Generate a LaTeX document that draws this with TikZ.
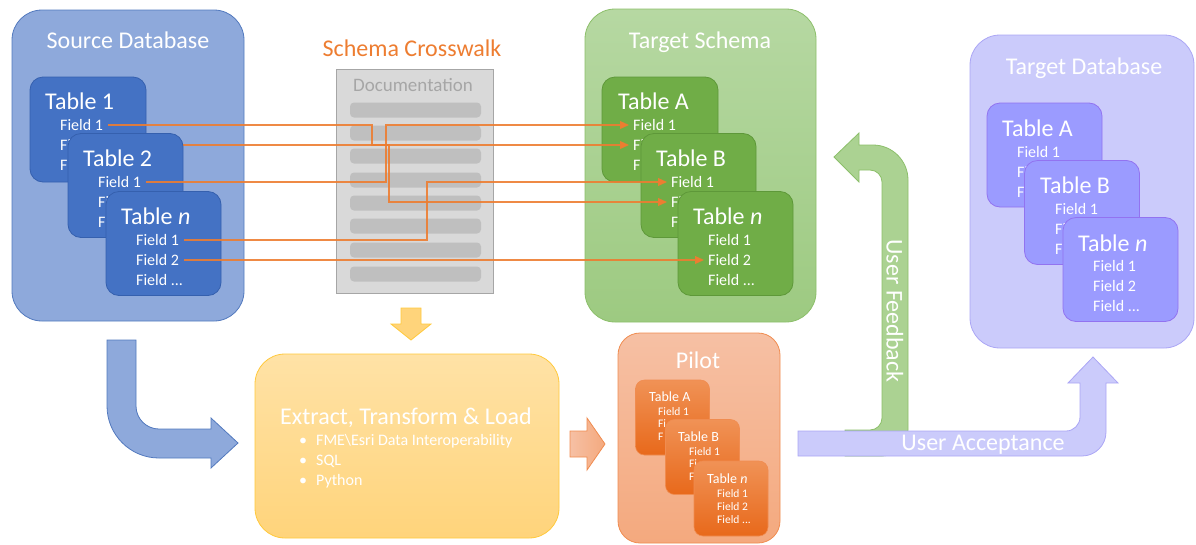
\documentclass[tikz,border=0pt]{standalone}
\usepackage{fontspec}
\setmainfont{Carlito}
\usetikzlibrary{arrows.meta}

\definecolor{srcbg}{HTML}{8EA9DB}
\definecolor{srcline}{HTML}{5279BE}
\definecolor{srcfg}{HTML}{4472C4}
\definecolor{srcdark}{HTML}{3560AE}
\definecolor{tgtbgtop}{HTML}{B6D8A2}
\definecolor{tgtbgbot}{HTML}{9DCA81}
\definecolor{tgtline}{HTML}{8CBF6A}
\definecolor{tgtfg}{HTML}{70AD47}
\definecolor{tgtdark}{HTML}{5E9839}
\definecolor{dbbg}{HTML}{CBCBFB}
\definecolor{dbline}{HTML}{ABA6F5}
\definecolor{dbfg}{HTML}{9B9BFF}
\definecolor{dbdark}{HTML}{9273F0}
\definecolor{etltop}{HTML}{FFE2A6}
\definecolor{etlbot}{HTML}{FFD47B}
\definecolor{etlline}{HTML}{FFC93C}
\definecolor{pilottop}{HTML}{F6C0A4}
\definecolor{pilotbot}{HTML}{F4A97E}
\definecolor{pilotline}{HTML}{F08C50}
\definecolor{pilottabtop}{HTML}{F09256}
\definecolor{pilottabbot}{HTML}{E8691B}
\definecolor{linkorange}{HTML}{ED7D31}
\definecolor{docbg}{HTML}{D9D9D9}
\definecolor{docline}{HTML}{A6A6A6}
\definecolor{docrowbg}{HTML}{BFBFBF}
\definecolor{fbgreen}{HTML}{ABD292}
\definecolor{uapurple}{HTML}{CBCBFB}

\tikzset{
bigbox/.style={draw, line width=0.8pt, rounded corners=30pt, inner sep=0pt}, % the four big containers
tabbox/.style={draw, line width=0.8pt, rounded corners=13pt, inner sep=0pt, minimum width=115pt, minimum height=104pt},
smalltab/.style={draw=pilotline, line width=0.6pt, rounded corners=9pt, inner sep=0pt, minimum width=74pt, minimum height=75pt, top color=pilottabtop, bottom color=pilottabbot},
boxtitle/.style={text=white, inner sep=0pt, text depth=0pt, font=\fontsize{24}{28}\selectfont},
tabtitle/.style={boxtitle, anchor=west},
fieldtxt/.style={anchor=west, inner sep=0pt, text depth=0pt, text=white, font=\fontsize{16}{19}\selectfont},
pilottitle/.style={tabtitle, font=\fontsize{14}{16}\selectfont},
pilotfield/.style={fieldtxt, font=\fontsize{11.5}{13}\selectfont},
docrow/.style={fill=docrowbg, rounded corners=4pt, inner sep=0pt, minimum width=131pt, minimum height=15pt},
maplink/.style={draw=linkorange, line width=1.1pt, draw opacity=0.9, shorten <=5pt, shorten >=4pt, -{Triangle[length=9pt,width=8pt]}},
blockarrow/.style={line width=0.8pt, line join=miter},
}

\begin{document}
\begin{tikzpicture}[x=1pt, y=-1pt]
\useasboundingbox (0,0) rectangle (1196,544);

% crosswalk document
\node[boxtitle, text=linkorange] (cwtitle) at (412,48) {Schema Crosswalk};
\node[draw=docline, fill=docbg, line width=1pt, minimum width=157pt, minimum height=224pt] (doc) at (414.5,181) {};
\node[boxtitle, text=docline, font=\fontsize{19}{22}\selectfont] (doctitle) at (413,85) {Documentation};
\foreach \y [count=\k] in {110,133,156,180,203,226,250,274}
  \node[docrow] (row\k) at (415.5,\y) {};

% turning points of the mapping lines
\coordinate (j1) at (372,0);
\coordinate (j2) at (389,0);
\coordinate (j3) at (386,0);
\coordinate (j4) at (427,0);

% target schema
\node[bigbox, top color=tgtbgtop, bottom color=tgtbgbot, draw=tgtline, minimum width=231pt, minimum height=313pt] (tgtschema) at (700.5,165.5) {};
\node[boxtitle] (tgttitle) at (700,40) {Target Schema};
\node[tabbox, fill=tgtfg, draw=tgtdark, minimum width=116pt, minimum height=105pt] (tgtA) at (660,129.5) {};
\node[tabtitle] (tgtAt) at (618,101) {Table A};
\node[fieldtxt] (tgtA1) at (633,125) {Field 1};
\node[fieldtxt] (tgtA2) at (633,145) {Fi};
\node[fieldtxt] (tgtA3) at (633,165) {F};
\node[tabbox, fill=tgtfg, draw=tgtdark] (tgtB) at (698.5,185.5) {};
\node[tabtitle] (tgtBt) at (656,158) {Table B};
\node[fieldtxt] (tgtB1) at (671,182) {Field 1};
\node[fieldtxt] (tgtB2) at (671,202) {Fi};
\node[fieldtxt] (tgtB3) at (671,222) {F};
\node[tabbox, fill=tgtfg, draw=tgtdark] (tgtn) at (735.5,243.5) {};
\node[tabtitle] (tgtnt) at (693,216) {Table \textit{n}};
\node[fieldtxt] (tgtn1) at (708,240) {Field 1};
\node[fieldtxt] (tgtn2) at (708,260) {Field 2};
\node[fieldtxt] (tgtn3) at (708,280) {Field ...};

% source database, each table followed by its mappings
\node[bigbox, fill=srcbg, draw=srcline, minimum width=232pt, minimum height=311pt] (srcdb) at (128,165.5) {};
\node[boxtitle] (srctitle) at (128,40) {Source Database};
\node[tabbox, fill=srcfg, draw=srcdark, minimum width=116pt, minimum height=105pt] (src1) at (88,129.5) {};
\node[tabtitle] (src1t) at (45,101) {Table 1};
\node[fieldtxt] (s1f1) at (60,125) {Field 1};
\node[fieldtxt] (s1f2) at (60,145) {Fi};
\node[fieldtxt] (s1f3) at (60,165) {F};
\draw[maplink] (s1f1.east) -- (j1 |- s1f1.east) -- (j1 |- tgtA2.west) -- (tgtA2.west);
\draw[maplink] (s1f2.east) -- (j2 |- s1f2.east) -- (j2 |- tgtB2.west) -- (tgtB2.west);

\node[tabbox, fill=srcfg, draw=srcdark] (src2) at (125.5,185.5) {};
\node[tabtitle] (src2t) at (83,158) {Table 2};
\node[fieldtxt] (s2f1) at (98,182) {Field 1};
\node[fieldtxt] (s2f2) at (98,202) {Fi};
\node[fieldtxt] (s2f3) at (98,222) {F};
\draw[maplink] (s2f1.east) -- (j3 |- s2f1.east) -- (j3 |- tgtA1.west) -- (tgtA1.west);

\node[tabbox, fill=srcfg, draw=srcdark] (srcn) at (163.5,243.5) {};
\node[tabtitle] (srcnt) at (121,216) {Table \textit{n}};
\node[fieldtxt] (snf1) at (136,240) {Field 1};
\node[fieldtxt] (snf2) at (136,260) {Field 2};
\node[fieldtxt] (snf3) at (136,280) {Field ...};
\draw[maplink] (snf1.east) -- (j4 |- snf1.east) -- (j4 |- tgtB1.west) -- (tgtB1.west);
\draw[maplink] (snf2.east) -- (tgtn2.west);

% target database
\node[bigbox, fill=dbbg, draw=dbline, minimum width=224pt, minimum height=313pt] (tgtdb) at (1082,191.5) {};
\node[boxtitle] (dbtitle) at (1084,66) {Target Database};
\node[tabbox, fill=dbfg, draw=dbdark] (dbA) at (1044.5,155) {};
\node[tabtitle] (dbAt) at (1002,128) {Table A};
\node[fieldtxt] (dbA1) at (1017,152) {Field 1};
\node[fieldtxt] (dbA2) at (1017,172) {Fi};
\node[fieldtxt] (dbA3) at (1017,192) {F};
\node[tabbox, fill=dbfg, draw=dbdark] (dbB) at (1082,212.5) {};
\node[tabtitle] (dbBt) at (1040,185) {Table B};
\node[fieldtxt] (dbB1) at (1055,209) {Field 1};
\node[fieldtxt] (dbB2) at (1055,229) {Fi};
\node[fieldtxt] (dbB3) at (1055,249) {F};
\node[tabbox, fill=dbfg, draw=dbdark] (dbn) at (1120.5,269.5) {};
\node[tabtitle] (dbnt) at (1078,243) {Table \textit{n}};
\node[fieldtxt] (dbn1) at (1093,266) {Field 1};
\node[fieldtxt] (dbn2) at (1093,286) {Field 2};
\node[fieldtxt] (dbn3) at (1093,306) {Field ...};

% block arrows
\draw[blockarrow, fill=srcbg, draw=srcline] (107,340) -- (136,340) -- (136,406)
  arc[start angle=180, end angle=90, radius=23] -- (211,429) -- (211,418) -- (238,443)
  -- (211,468) -- (211,458) -- (159,458) arc[start angle=90, end angle=180, radius=52] -- cycle;
\draw[blockarrow, fill=etlbot, draw=etlline] (401,308) -- (421,308) -- (421,324) -- (431,324)
  -- (411,340) -- (391,324) -- (401,324) -- cycle;
\draw[blockarrow, left color=pilottop, right color=pilotbot, draw=pilotline] (570,431) -- (587,431)
  -- (587,418) -- (605,444) -- (587,470) -- (587,457) -- (570,457) -- cycle;

% extract, transform & load
\node[bigbox, top color=etltop, bottom color=etlbot, draw=etlline, minimum width=304pt, minimum height=184pt] (etl) at (407,446) {};
\node[boxtitle] (etltitle) at (406,416) {Extract, Transform \& Load};
\node[fieldtxt] (tool1) at (299,440) {\textbullet\hspace{9pt}FME\textbackslash Esri Data Interoperability};
\node[fieldtxt] (tool2) at (299,460) {\textbullet\hspace{9pt}SQL};
\node[fieldtxt] (tool3) at (299,480) {\textbullet\hspace{9pt}Python};

% pilot
\node[bigbox, rounded corners=22pt, top color=pilottop, bottom color=pilotbot, draw=pilotline, minimum width=162pt, minimum height=210pt] (pilot) at (699,438) {};
\node[boxtitle] (pilottitle) at (698,360) {Pilot};
\node[smalltab] (pA) at (672.5,417.5) {};
\node[pilottitle] (pAt) at (649,397) {Table A};
\node[pilotfield] (pA1) at (658,411) {Field 1};
\node[pilotfield] (pA2) at (658,424) {Fi};
\node[pilotfield] (pA3) at (658,437) {F};
\node[smalltab] (pB) at (702.5,457) {};
\node[pilottitle] (pBt) at (678,437) {Table B};
\node[pilotfield] (pB1) at (689,451) {Field 1};
\node[pilotfield] (pB2) at (689,464) {Fi};
\node[pilotfield] (pB3) at (689,477) {F};
\node[smalltab] (pn) at (731,498.5) {};
\node[pilottitle] (pnt) at (707,479) {Table \textit{n}};
\node[pilotfield] (pn1) at (717,493) {Field 1};
\node[pilotfield] (pn2) at (717,506) {Field 2};
\node[pilotfield] (pn3) at (717,519) {Field ...};

% feedback loop and acceptance
\draw[blockarrow, fill=fbgreen, draw=tgtline] (859,133) -- (834,157) -- (859,182) -- (859,170) -- (870,170)
  arc[start angle=270, end angle=360, radius=12] -- (882,418)
  arc[start angle=0, end angle=90, radius=12] -- (845,430) -- (845,456) -- (882,456)
  arc[start angle=90, end angle=0, radius=26] -- (908,180)
  arc[start angle=0, end angle=-90, radius=35] -- (859,145) -- cycle;
\node[boxtitle, rotate=-90] (fbtext) at (895,311) {User Feedback};
\draw[blockarrow, fill=uapurple, draw=dbline] (798,456) -- (798,431) -- (1066,431)
  arc[start angle=90, end angle=0, radius=14] -- (1080,383) -- (1068,383) -- (1093,357)
  -- (1118,383) -- (1106,383) -- (1106,432) arc[start angle=0, end angle=90, radius=24] -- cycle;
\node[boxtitle] (uatext) at (983,443) {User Acceptance};
\end{tikzpicture}
\end{document}
